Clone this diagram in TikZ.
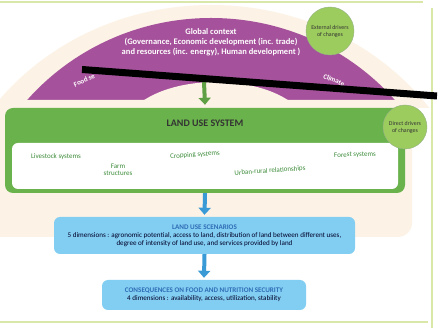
\documentclass[tikz,border=0pt]{standalone}
\usepackage{fontspec}
\setmainfont{Carlito}
\usetikzlibrary{arrows.meta}
\usetikzlibrary{positioning}
\usepackage{xcolor}

\definecolor{archpurple}{HTML}{A5519B}
\definecolor{cream}{HTML}{FCF3E6}
\definecolor{sysgreen}{HTML}{6AB24B}
\definecolor{drivergreen}{HTML}{9DCC5E}
\definecolor{labelgreen}{HTML}{3D8C3A}
\definecolor{scenblue}{HTML}{82CDF2}
\definecolor{arrowblue}{HTML}{3A9AD6}
\definecolor{titleblue}{HTML}{2F6DB5}
\definecolor{framegreen}{HTML}{D9E7A9}

\tikzset{
  bluebox/.style={fill=scenblue, rounded corners=6pt, inner sep=0pt, align=center,
    font=\fontsize{7.1}{8}\selectfont, text=black!85!blue},
  driver/.style={circle, fill=drivergreen, draw=sysgreen!70!black!60, line width=0.4pt,
    inner sep=0pt, align=center, font=\fontsize{5.9}{7}\selectfont, text=black!80},
  syslabel/.style={font=\fontsize{7}{7.5}\selectfont, text=labelgreen, align=center, inner sep=0pt},
  archtext/.style={font=\bfseries\fontsize{8.5}{10}\selectfont, text=white, align=center, inner sep=0pt},
  blockarrow/.style={line width=4pt, -{Triangle[width=12pt,length=7pt]}},
}

\begin{document}
\begin{tikzpicture}[x=1pt,y=-1pt]
      \useasboundingbox (0,0) rectangle (439,328);
      \fill[white] (0,0) rectangle (439,328);

      % Frame
      \draw[framegreen, line width=2pt] (0,2) -- (423,2);
      \draw[framegreen, line width=1.5pt] (432,8) -- (432,328);
      \draw[framegreen, line width=2pt] (0,322) -- (428,322);

      % Arch
      \begin{scope}
        \clip (0,0) rectangle (439,108);
        \fill[cream] (211,255) ellipse [x radius=270, y radius=250];
        \fill[archpurple] (211,255) ellipse [x radius=243, y radius=237];
        \fill[cream] (216,130) ellipse [x radius=92, y radius=48];
      \end{scope}
      \fill[cream] (0,100) -- (412,100) -- (412,223) arc[start angle=0, end angle=90, radius=14] -- (0,237) -- cycle;

      \node[archtext] (context) at (211,42) {Global context\\(Governance, Economic development (inc. trade)\\and resources (inc. energy), Human development )};
      \node[archtext, font=\bfseries\fontsize{7}{8}\selectfont, rotate=25, anchor=west] (food) at (74,85) {Food se};
      \node[archtext, font=\bfseries\fontsize{7}{8}\selectfont, rotate=-22] (climate) at (334,80) {Climate};
      \coordinate (archbase) at (204,82);

      % Land use system
      \node[fill=sysgreen, rounded corners=8pt, minimum width=400pt, minimum height=85pt] (system) at (205,150.5) {};
      \node[fill=white, rounded corners=6pt, minimum width=386pt, minimum height=46pt] (inner) at (205,166) {};
      \node[font=\bfseries\fontsize{10}{12}\selectfont, text=black!80] (systitle) at (205,123) {LAND USE SYSTEM};
      \foreach \x/\y/\ang/\txt/\nm in {56/157/0/Livestock systems/livestock,
                                       118/170/0/Farm\\structures/farm,
                                       195/155/4/Cropping systems/cropping,
                                       270/171/4/Urban-rural relationships/urban,
                                       355/155/2/Forest systems/forest}
      {
        \node[syslabel, rotate=\ang] (\nm) at (\x,\y) {\txt};
      }

      % Drivers
      \node[driver, minimum size=48pt] (external) at (330,31) {External drivers\\of changes};
      \node[driver, minimum size=44pt] (direct) at (405,127) {Direct drivers\\of changes};

      % Scenarios and consequences
      \node[bluebox, minimum width=301pt, minimum height=37pt] (scenarios) at (204.5,235.5)
        {\textcolor{titleblue}{\bfseries LAND USE SCENARIOS}\\5 dimensions : agronomic potential, access to land, distribution of land between different uses,\\degree of intensity of land use, and services provided by land};
      \node[bluebox, minimum width=204pt, minimum height=30pt] (consequences) at (204,295)
        {\textcolor{titleblue}{\bfseries CONSEQUENCES ON FOOD AND NUTRITION SECURITY}\\4 dimensions : availability, access, utilization, stability};

      % Arrows
      \draw[blockarrow, sysgreen!90!black] (archbase) -- ([yshift=3pt]system.north);
      \draw[blockarrow, arrowblue] (system.south) -- ([yshift=2pt]scenarios.north);
      \draw[blockarrow, arrowblue] (scenarios.south) -- ([yshift=2pt]consequences.north);

      % Bar
      \coordinate (barstart) at (82,69.5);
      \coordinate (barend) at (437,96);
      \draw[line width=7pt] (barstart) -- (barend);
  \end{tikzpicture}
\end{document}
